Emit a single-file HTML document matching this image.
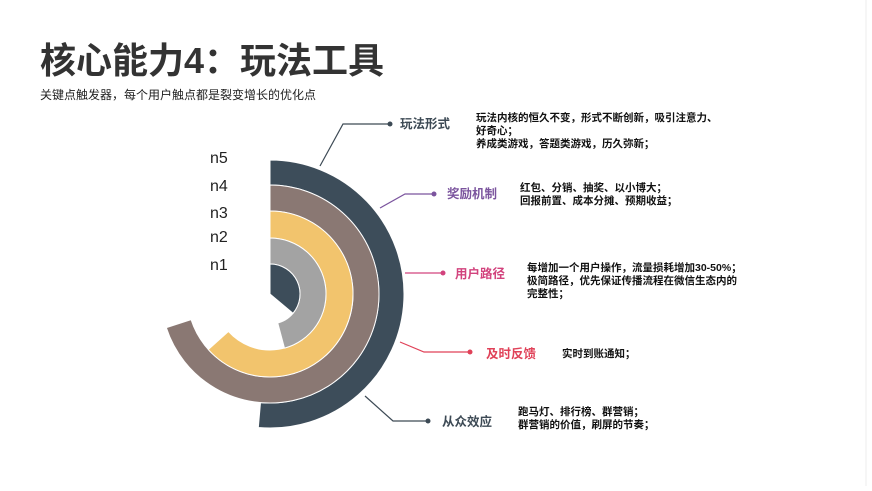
<!DOCTYPE html>
<html><head><meta charset="utf-8"><style>
body{margin:0;background:#fff;}
svg text{font-family:"Liberation Sans","Noto Sans CJK SC",sans-serif;}
</style></head><body>
<svg width="872" height="486" viewBox="0 0 872 486" xmlns="http://www.w3.org/2000/svg">
<rect width="872" height="486" fill="#fff"/>
<line x1="866" y1="0" x2="866" y2="486" stroke="#eee" stroke-width="1"/>
<text x="40" y="73" font-size="36" font-weight="bold" fill="#333">核心能力4：玩法工具</text>
<text x="40" y="99" font-size="12" fill="#222">关键点触发器，每个用户触点都是裂变增长的优化点</text>
<g font-size="16" fill="#222">
<text x="210" y="163">n5</text><text x="210" y="191">n4</text><text x="210" y="218">n3</text><text x="210" y="242">n2</text><text x="210" y="270">n1</text>
</g>
<g stroke="#fff" stroke-width="1">
<path d="M270,160 A134 134 0 1 1 258.32,427.49 L260.50,402.59 A109 109 0 1 0 270,185 Z" fill="#3d4d5a"/>
<path d="M270,185 A109 109 0 1 1 166.33,327.68 L191.06,319.65 A83 83 0 1 0 270,211 Z" fill="#8a7873"/>
<path d="M270,211 A83 83 0 1 1 208.32,349.54 L228.39,331.47 A56 56 0 1 0 270,238 Z" fill="#f2c46d"/>
<path d="M270,238 A56 56 0 0 1 284.49,348.09 L277.76,322.98 A30 30 0 0 0 270,264 Z" fill="#a3a3a3"/>
<path d="M270,264 A30 30 0 0 1 292.98,313.28 L270,294 Z" fill="#3d4d5a"/>
</g>
<g fill="none" stroke-width="1.2">
<polyline points="320,166 343,124 390,124" stroke="#3d4a55"/>
<polyline points="380,208 405,194 434,194" stroke="#7b549e"/>
<polyline points="405,273 443,273" stroke="#d2437d"/>
<polyline points="400,342 424,352 470,352" stroke="#e04158"/>
<polyline points="365,396 393,421 428,421" stroke="#3d4a55"/>
</g>
<circle cx="390" cy="124" r="2.5" fill="#3d4a55"/>
<circle cx="434" cy="194" r="2.5" fill="#7b549e"/>
<circle cx="443" cy="273" r="2.5" fill="#d2437d"/>
<circle cx="470" cy="352" r="2.5" fill="#e04158"/>
<circle cx="428" cy="421" r="2.5" fill="#3d4a55"/>
<g font-size="12.5" font-weight="bold">
<text x="400" y="128" fill="#3d4a55">玩法形式</text>
<text x="447" y="198" fill="#7b549e">奖励机制</text>
<text x="455" y="278" fill="#d2437d">用户路径</text>
<text x="486" y="358" fill="#e04158">及时反馈</text>
<text x="442" y="426" fill="#3d4a55">从众效应</text>
</g>
<g font-size="10.5" fill="#111" font-weight="bold">
<text x="476" y="121">玩法内核的恒久不变，形式不断创新，吸引注意力、</text>
<text x="476" y="134">好奇心；</text>
<text x="476" y="147">养成类游戏，答题类游戏，历久弥新；</text>
<text x="520" y="191">红包、分销、抽奖、以小博大；</text>
<text x="520" y="204">回报前置、成本分摊、预期收益；</text>
<text x="527" y="271">每增加一个用户操作，流量损耗增加30-50%；</text>
<text x="527" y="284">极简路径，优先保证传播流程在微信生态内的</text>
<text x="527" y="297">完整性；</text>
<text x="562" y="357">实时到账通知；</text>
<text x="518" y="415">跑马灯、排行榜、群营销；</text>
<text x="518" y="428">群营销的价值，刷屏的节奏；</text>
</g>
</svg>
</body></html>
